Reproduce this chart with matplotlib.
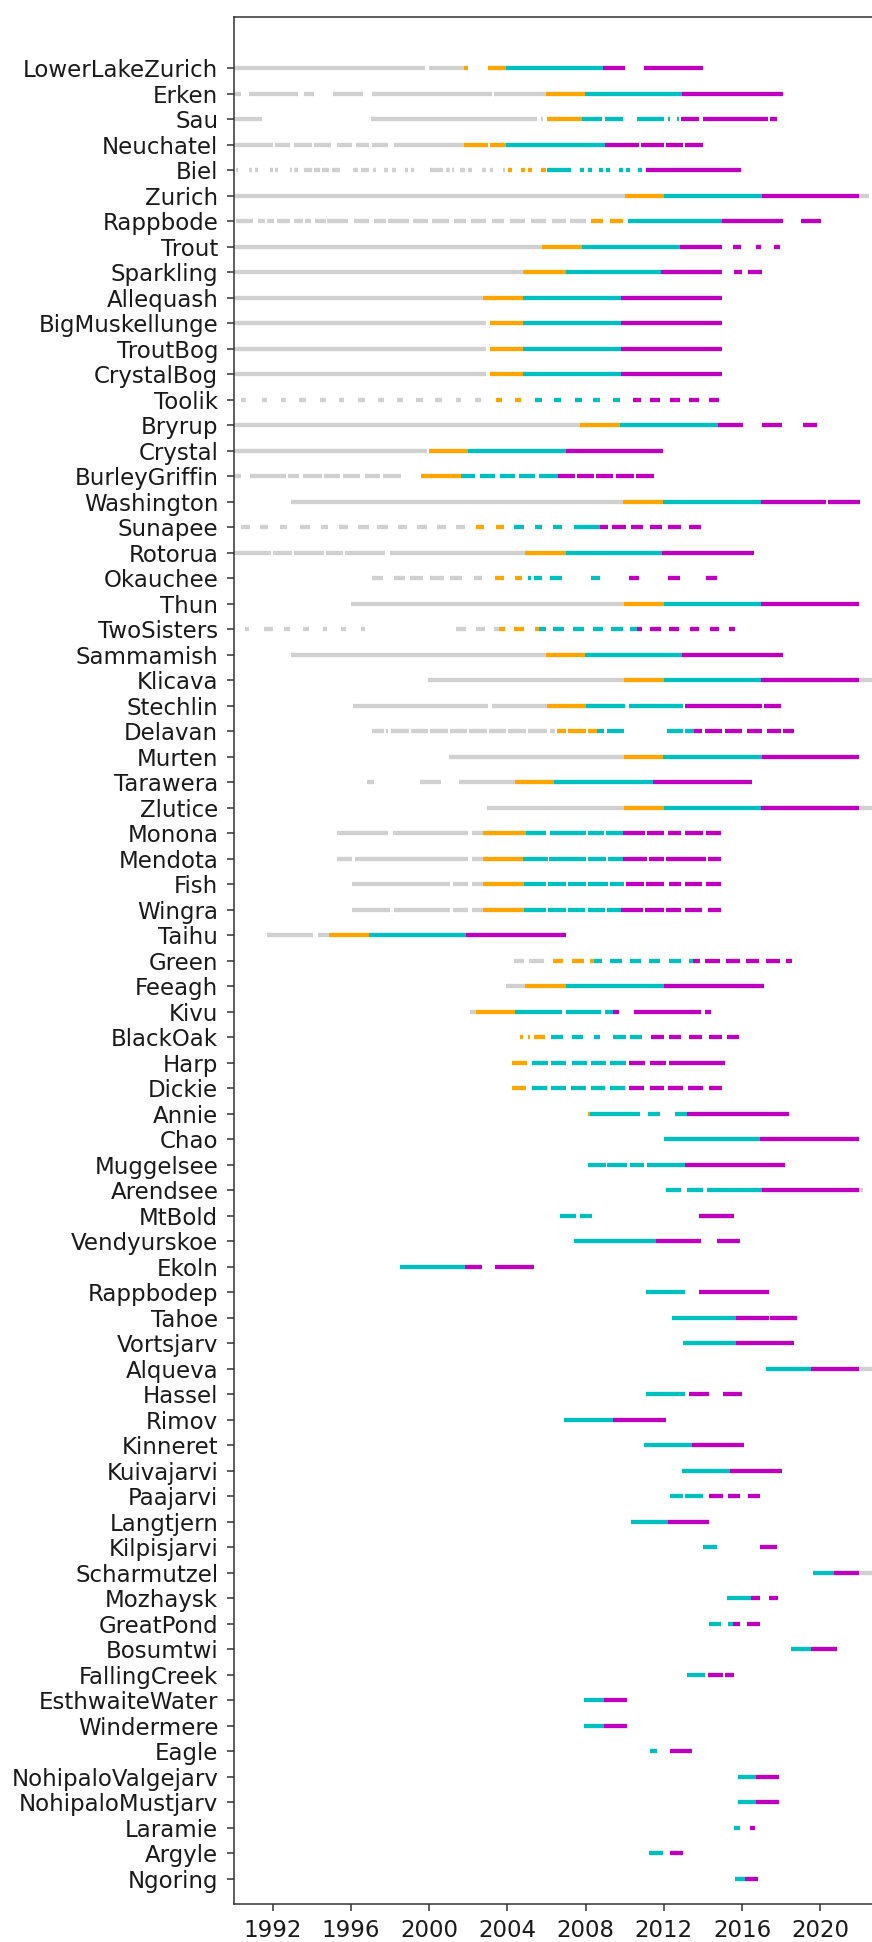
import matplotlib
matplotlib.use("Agg")
import matplotlib.pyplot as plt

# Lakes, top to bottom
lakes = [
    "LowerLakeZurich", "Erken", "Sau", "Neuchatel", "Biel", "Zurich", "Rappbode",
    "Trout", "Sparkling", "Allequash", "BigMuskellunge", "TroutBog", "CrystalBog",
    "Toolik", "Bryrup", "Crystal", "BurleyGriffin", "Washington", "Sunapee",
    "Rotorua", "Okauchee", "Thun", "TwoSisters", "Sammamish", "Klicava",
    "Stechlin", "Delavan", "Murten", "Tarawera", "Zlutice", "Monona", "Mendota",
    "Fish", "Wingra", "Taihu", "Green", "Feeagh", "Kivu", "BlackOak", "Harp",
    "Dickie", "Annie", "Chao", "Muggelsee", "Arendsee", "MtBold", "Vendyurskoe",
    "Ekoln", "Rappbodep", "Tahoe", "Vortsjarv", "Alqueva", "Hassel", "Rimov",
    "Kinneret", "Kuivajarvi", "Paajarvi", "Langtjern", "Kilpisjarvi",
    "Scharmutzel", "Mozhaysk", "GreatPond", "Bosumtwi", "FallingCreek",
    "EsthwaiteWater", "Windermere", "Eagle", "NohipaloValgejarv",
    "NohipaloMustjarv", "Laramie", "Argyle", "Ngoring",
]

# Observation spans (decimal years) outside the modelling periods
other_spans = {
    "LowerLakeZurich": [(1990, 1999.8), (2000.0, 2001.8)],
    "Erken": [(1990, 1990.4), (1990.8, 1993.3), (1993.6, 1994.1), (1995.1, 1996.6),
              (1997.1, 2003.2), (2003.3, 2005.95)],
    "Sau": [(1990, 1991.45), (1997.0, 2005.5), (2005.7, 2005.8)],
    "Neuchatel": [(1990, 1992.0), (1992.1, 1992.9), (1993.1, 1994.0), (1994.1, 1995.0),
                  (1995.3, 1996.05), (1996.25, 1996.9), (1997.1, 1997.9), (1998.2, 2001.8)],
    "Biel": [(1990.1, 1990.25), (1990.8, 1990.95), (1991.1, 1991.25), (1991.85, 1992.0),
             (1992.1, 1992.25), (1992.9, 1993.0), (1993.1, 1993.3), (1993.6, 1994.0),
             (1994.1, 1994.4), (1994.5, 1994.9), (1995.05, 1995.45), (1996.1, 1996.35),
             (1996.5, 1996.9), (1997.15, 1997.3), (1997.7, 1997.9), (1998.1, 1998.3),
             (1998.75, 1998.9), (1999.05, 1999.2), (2000.05, 2000.7), (2000.85, 2001.05),
             (2001.15, 2001.25), (2001.55, 2001.85), (2002.0, 2002.2), (2002.7, 2002.9),
             (2003.1, 2003.25), (2003.75, 2003.9)],
    "Zurich": [(1990, 2010.0), (2022.0, 2022.5)],
    "Rappbode": [(1990.1, 1991.0), (1991.25, 1991.6), (1991.7, 1992.05), (1992.2, 1992.9),
                 (1993.1, 1993.55), (1993.65, 1993.95), (1994.15, 1994.7), (1994.8, 1995.85),
                 (1996.15, 1996.9), (1997.2, 1997.8), (1997.9, 1998.95), (1999.15, 1999.95),
                 (2000.15, 2001.0), (2001.25, 2001.9), (2002.15, 2002.9), (2003.2, 2003.85),
                 (2004.15, 2004.9), (2005.2, 2005.95), (2006.3, 2007.0), (2007.2, 2008.0)],
    "Trout": [(1990, 2005.75)],
    "Sparkling": [(1990, 2004.8)],
    "Allequash": [(1990, 2002.75)],
    "BigMuskellunge": [(1990, 2002.9)],
    "TroutBog": [(1990, 2002.9)],
    "CrystalBog": [(1990, 2002.9)],
    "Toolik": [(1990.4, 1990.65), (1991.45, 1991.7), (1992.4, 1992.7), (1993.35, 1993.7),
               (1994.4, 1994.7), (1995.4, 1995.65), (1996.35, 1996.7), (1997.4, 1997.7),
               (1998.35, 1998.65), (1999.35, 1999.7), (2000.3, 2000.65), (2001.35, 2001.65),
               (2002.35, 2002.65)],
    "Bryrup": [(1990, 2007.7)],
    "Crystal": [(1990, 1999.9)],
    "BurleyGriffin": [(1990, 1990.4), (1990.85, 1992.7), (1992.8, 1993.35), (1993.55, 1994.5),
                      (1994.6, 1995.45), (1995.6, 1996.45), (1996.7, 1997.5), (1997.65, 1998.55)],
    "Washington": [(1992.95, 2009.9)],
    "Sunapee": [(1990.4, 1990.85), (1991.35, 1991.75), (1992.35, 1992.75), (1993.4, 1993.9),
                (1994.45, 1994.85), (1995.4, 1995.85), (1996.35, 1996.9), (1997.35, 1997.9),
                (1998.4, 1998.85), (1999.4, 1999.9), (2000.4, 2000.85), (2001.35, 2001.85)],
    "Rotorua": [(1990, 1991.9), (1992.0, 1993.0), (1993.1, 1994.6), (1994.7, 1995.6),
                (1995.7, 1997.75), (1998.0, 2004.9)],
    "Okauchee": [(1997.1, 1997.65), (1998.2, 1998.75), (1999.0, 1999.7), (2000.05, 2000.75),
                 (2001.05, 2001.7), (2002.3, 2002.7)],
    "Thun": [(1996.0, 2009.95)],
    "TwoSisters": [(1990.6, 1990.8), (1991.55, 1992.0), (1992.6, 1992.9), (1993.55, 1993.85),
                   (1994.55, 1994.75), (1995.5, 1995.75), (1996.5, 1996.7), (2001.35, 2001.9),
                   (2002.4, 2002.85), (2003.3, 2003.55)],
    "Sammamish": [(1992.95, 2005.95)],
    "Klicava": [(1999.95, 2009.95), (2022.0, 2022.7)],
    "Stechlin": [(1996.1, 2003.0), (2003.2, 2006.0)],
    "Delavan": [(1997.1, 1997.7), (1997.8, 1997.9), (1998.05, 1998.95), (1999.05, 1999.95),
                (2000.05, 2000.95), (2001.05, 2001.95), (2002.05, 2002.95), (2003.05, 2003.95),
                (2004.05, 2004.95), (2005.05, 2006.0), (2006.2, 2006.45)],
    "Murten": [(2001.0, 2009.95)],
    "Tarawera": [(1996.8, 1997.2), (1999.55, 2000.6), (2001.5, 2004.4)],
    "Zlutice": [(2002.95, 2009.95), (2022.0, 2022.7)],
    "Monona": [(1995.3, 1997.9), (1998.15, 2002.0), (2002.2, 2002.75)],
    "Mendota": [(1995.3, 1996.05), (1996.2, 2002.0), (2002.2, 2002.75)],
    "Fish": [(1996.05, 2001.05), (2001.2, 2002.0), (2002.2, 2002.75)],
    "Wingra": [(1996.05, 1998.0), (1998.2, 2001.05), (2001.2, 2002.0), (2002.2, 2002.75)],
    "Taihu": [(1991.7, 1994.05), (1994.3, 1994.9)],
    "Green": [(2004.35, 2004.85), (2005.1, 2005.85)],
    "Feeagh": [(2003.95, 2004.9)],
    "Kivu": [(2002.1, 2002.4)],
    "Arendsee": [(2022.0, 2022.2)],
    "Alqueva": [(2022.0, 2022.8)],
    "Scharmutzel": [(2022.0, 2022.8)],
}

# Spin-up period spans
spinup_spans = {
    "LowerLakeZurich": [(2001.8, 2002.0), (2003.0, 2003.95)],
    "Erken": [(2005.95, 2007.95)],
    "Sau": [(2006.0, 2007.8)],
    "Neuchatel": [(2001.8, 2003.0), (2003.1, 2003.95)],
    "Biel": [(2004.05, 2004.25), (2004.7, 2004.9), (2005.05, 2005.25), (2005.7, 2005.95)],
    "Zurich": [(2010.0, 2012.0)],
    "Rappbode": [(2008.25, 2008.9), (2009.25, 2009.9)],
    "Trout": [(2005.75, 2007.8)],
    "Sparkling": [(2004.8, 2007.0)],
    "Allequash": [(2002.75, 2004.8)],
    "BigMuskellunge": [(2003.1, 2004.8)],
    "TroutBog": [(2003.1, 2004.8)],
    "CrystalBog": [(2003.1, 2004.8)],
    "Toolik": [(2003.4, 2003.7), (2004.4, 2004.7)],
    "Bryrup": [(2007.7, 2009.75)],
    "Crystal": [(2000.0, 2002.0)],
    "BurleyGriffin": [(1999.6, 2001.65)],
    "Washington": [(2009.9, 2011.95)],
    "Sunapee": [(2002.4, 2002.8), (2003.4, 2003.8)],
    "Rotorua": [(2004.9, 2007.0)],
    "Okauchee": [(2003.35, 2003.8), (2004.4, 2004.75)],
    "Thun": [(2009.95, 2012.0)],
    "TwoSisters": [(2003.55, 2003.9), (2004.35, 2004.85), (2005.4, 2005.6)],
    "Sammamish": [(2005.95, 2007.95)],
    "Klicava": [(2009.95, 2012.0)],
    "Stechlin": [(2006.0, 2008.0)],
    "Delavan": [(2006.55, 2007.0), (2007.1, 2008.0), (2008.1, 2008.6)],
    "Murten": [(2009.95, 2011.95)],
    "Tarawera": [(2004.4, 2006.4)],
    "Zlutice": [(2009.95, 2012.0)],
    "Monona": [(2002.75, 2004.95)],
    "Mendota": [(2002.75, 2004.8)],
    "Fish": [(2002.75, 2004.85)],
    "Wingra": [(2002.75, 2004.85)],
    "Taihu": [(1994.9, 1996.9)],
    "Green": [(2006.35, 2006.85), (2007.3, 2007.9), (2008.2, 2008.45)],
    "Feeagh": [(2004.9, 2007.0)],
    "Kivu": [(2002.4, 2004.4)],
    "BlackOak": [(2004.65, 2004.8), (2005.05, 2005.15), (2005.35, 2005.9)],
    "Harp": [(2004.25, 2005.0)],
    "Dickie": [(2004.25, 2004.95)],
    "Annie": [(2008.1, 2008.2)],
}

# Calibration period spans
calib_spans = {
    "LowerLakeZurich": [(2003.95, 2008.9)],
    "Erken": [(2007.95, 2012.95)],
    "Sau": [(2007.8, 2008.85), (2009.0, 2009.9), (2010.6, 2012.0), (2012.2, 2012.3),
            (2012.65, 2012.75)],
    "Neuchatel": [(2003.95, 2009.0)],
    "Biel": [(2006.0, 2007.25), (2007.7, 2007.9), (2008.1, 2008.3), (2008.7, 2008.9),
             (2009.05, 2009.25), (2009.7, 2009.9), (2010.05, 2010.25), (2010.7, 2010.9)],
    "Zurich": [(2012.0, 2017.0)],
    "Rappbode": [(2010.15, 2014.95)],
    "Trout": [(2007.8, 2012.8)],
    "Sparkling": [(2007.0, 2011.85)],
    "Allequash": [(2004.8, 2009.8)],
    "BigMuskellunge": [(2004.8, 2009.8)],
    "TroutBog": [(2004.8, 2009.8)],
    "CrystalBog": [(2004.8, 2009.8)],
    "Toolik": [(2005.4, 2005.75), (2006.4, 2006.75), (2007.45, 2007.8), (2008.4, 2008.75),
               (2009.4, 2009.75)],
    "Bryrup": [(2009.75, 2014.75)],
    "Crystal": [(2002.0, 2007.0)],
    "BurleyGriffin": [(2001.65, 2002.35), (2002.6, 2003.35), (2003.6, 2004.4), (2004.6, 2005.4),
                      (2005.6, 2006.6)],
    "Washington": [(2011.95, 2016.95)],
    "Sunapee": [(2004.35, 2004.85), (2005.4, 2005.75), (2006.35, 2006.8), (2007.4, 2008.75)],
    "Rotorua": [(2007.0, 2011.9)],
    "Okauchee": [(2005.05, 2005.2), (2005.35, 2005.75), (2006.2, 2006.8), (2008.25, 2008.75)],
    "Thun": [(2012.0, 2016.95)],
    "TwoSisters": [(2005.6, 2005.95), (2006.35, 2006.9), (2007.35, 2007.9), (2008.35, 2008.9),
                   (2009.3, 2009.9), (2010.25, 2010.6)],
    "Sammamish": [(2007.95, 2012.95)],
    "Klicava": [(2012.0, 2016.95)],
    "Stechlin": [(2008.0, 2010.0), (2010.2, 2013.0)],
    "Delavan": [(2008.6, 2008.95), (2009.1, 2009.95), (2012.15, 2013.0), (2013.1, 2013.55)],
    "Murten": [(2011.95, 2017.0)],
    "Tarawera": [(2006.4, 2011.45)],
    "Zlutice": [(2012.0, 2016.95)],
    "Monona": [(2004.95, 2005.95), (2006.2, 2008.0), (2008.1, 2008.95), (2009.05, 2009.9)],
    "Mendota": [(2004.8, 2006.05), (2006.15, 2008.0), (2008.1, 2009.05), (2009.15, 2009.9)],
    "Fish": [(2004.85, 2005.95), (2006.1, 2007.0), (2007.1, 2008.0), (2008.1, 2009.15),
             (2009.25, 2009.95)],
    "Wingra": [(2004.85, 2005.95), (2006.1, 2007.0), (2007.1, 2007.95), (2008.1, 2009.0),
               (2009.1, 2009.8)],
    "Taihu": [(1996.9, 2001.9)],
    "Green": [(2008.45, 2008.85), (2009.25, 2009.85), (2010.25, 2010.85), (2011.25, 2011.8),
              (2012.25, 2012.85), (2013.3, 2013.5)],
    "Feeagh": [(2007.0, 2012.0)],
    "Kivu": [(2004.4, 2006.8), (2007.0, 2008.8), (2009.0, 2009.4)],
    "BlackOak": [(2006.25, 2006.85), (2007.3, 2007.85), (2008.45, 2008.75), (2009.4, 2010.05),
                 (2010.25, 2010.9)],
    "Harp": [(2005.25, 2006.05), (2006.25, 2007.0), (2007.3, 2008.05), (2008.25, 2009.05),
             (2009.25, 2010.05)],
    "Dickie": [(2005.25, 2006.0), (2006.25, 2007.0), (2007.25, 2008.0), (2008.25, 2009.0),
               (2009.25, 2010.0)],
    "Annie": [(2008.2, 2010.8), (2011.2, 2011.8), (2012.55, 2013.2)],
    "Chao": [(2012.0, 2016.9)],
    "Muggelsee": [(2008.1, 2009.05), (2009.1, 2010.1), (2010.25, 2011.0), (2011.15, 2013.1)],
    "Arendsee": [(2012.1, 2012.9), (2013.2, 2014.0), (2014.2, 2017.0)],
    "MtBold": [(2006.7, 2007.5), (2007.7, 2008.3)],
    "Vendyurskoe": [(2007.4, 2011.6)],
    "Ekoln": [(1998.5, 2001.85)],
    "Rappbodep": [(2011.1, 2013.1)],
    "Tahoe": [(2012.4, 2015.7)],
    "Vortsjarv": [(2013.0, 2015.7)],
    "Alqueva": [(2017.2, 2019.5)],
    "Hassel": [(2011.1, 2013.1)],
    "Rimov": [(2006.9, 2009.4)],
    "Kinneret": [(2011.0, 2013.45)],
    "Kuivajarvi": [(2012.95, 2015.4)],
    "Paajarvi": [(2012.3, 2013.0), (2013.1, 2014.0)],
    "Langtjern": [(2010.3, 2012.2)],
    "Kilpisjarvi": [(2014.0, 2014.7)],
    "Scharmutzel": [(2019.6, 2020.7)],
    "Mozhaysk": [(2015.25, 2016.45)],
    "GreatPond": [(2014.3, 2014.9), (2015.3, 2015.55)],
    "Bosumtwi": [(2018.5, 2019.5)],
    "FallingCreek": [(2013.2, 2014.1)],
    "EsthwaiteWater": [(2007.9, 2008.95)],
    "Windermere": [(2007.9, 2008.95)],
    "Eagle": [(2011.3, 2011.65)],
    "NohipaloValgejarv": [(2015.8, 2016.7)],
    "NohipaloMustjarv": [(2015.8, 2016.7)],
    "Laramie": [(2015.6, 2015.9)],
    "Argyle": [(2011.25, 2011.95)],
    "Ngoring": [(2015.65, 2016.15)],
}

# Validation period spans
valid_spans = {
    "LowerLakeZurich": [(2008.9, 2010.0), (2011.0, 2014.0)],
    "Erken": [(2012.95, 2018.1)],
    "Sau": [(2012.85, 2013.8), (2014.0, 2017.3), (2017.4, 2017.8)],
    "Neuchatel": [(2009.0, 2010.75), (2010.85, 2012.0), (2012.1, 2013.0), (2013.1, 2014.0)],
    "Biel": [(2011.1, 2015.95)],
    "Zurich": [(2017.0, 2022.0)],
    "Rappbode": [(2014.95, 2018.1), (2019.0, 2020.05)],
    "Trout": [(2012.8, 2014.95), (2015.55, 2015.95), (2016.7, 2016.95), (2017.65, 2017.95)],
    "Sparkling": [(2011.85, 2014.95), (2015.6, 2016.0), (2016.3, 2017.0)],
    "Allequash": [(2009.8, 2014.95)],
    "BigMuskellunge": [(2009.8, 2014.95)],
    "TroutBog": [(2009.8, 2014.95)],
    "CrystalBog": [(2009.8, 2014.95)],
    "Toolik": [(2010.4, 2010.85), (2011.3, 2011.8), (2012.3, 2012.8), (2013.3, 2013.8),
               (2014.3, 2014.8)],
    "Bryrup": [(2014.75, 2016.05), (2017.0, 2018.05), (2019.1, 2019.85)],
    "Crystal": [(2007.0, 2011.95)],
    "BurleyGriffin": [(2006.6, 2007.45), (2007.55, 2008.45), (2008.55, 2009.4),
                      (2009.55, 2010.45), (2010.55, 2011.5)],
    "Washington": [(2016.95, 2020.3), (2020.4, 2022.05)],
    "Sunapee": [(2008.75, 2009.15), (2009.35, 2010.05), (2010.3, 2010.95), (2011.3, 2011.9),
                (2012.2, 2012.9), (2013.3, 2013.9)],
    "Rotorua": [(2011.9, 2016.6)],
    "Okauchee": [(2010.2, 2010.75), (2012.2, 2012.8), (2014.15, 2014.7)],
    "Thun": [(2016.95, 2022.0)],
    "TwoSisters": [(2010.6, 2010.9), (2011.3, 2011.85), (2012.25, 2012.75), (2013.35, 2013.8),
                   (2014.35, 2014.8), (2015.35, 2015.65)],
    "Sammamish": [(2012.95, 2018.1)],
    "Klicava": [(2016.95, 2022.0)],
    "Stechlin": [(2013.1, 2017.0), (2017.1, 2018.0)],
    "Delavan": [(2013.55, 2013.95), (2014.1, 2014.95), (2015.1, 2016.0), (2016.25, 2017.0),
                (2017.25, 2018.0), (2018.1, 2018.65)],
    "Murten": [(2017.0, 2022.0)],
    "Tarawera": [(2011.45, 2016.5)],
    "Zlutice": [(2016.95, 2022.0)],
    "Monona": [(2009.9, 2011.05), (2011.15, 2012.0), (2012.2, 2012.9), (2013.1, 2014.0),
               (2014.15, 2014.9)],
    "Mendota": [(2009.9, 2011.15), (2011.25, 2012.0), (2012.1, 2014.15), (2014.25, 2014.9)],
    "Fish": [(2010.05, 2011.0), (2011.1, 2012.0), (2012.25, 2012.9), (2013.1, 2013.95),
             (2014.15, 2014.9)],
    "Wingra": [(2009.8, 2010.95), (2011.05, 2012.0), (2012.1, 2012.9), (2013.1, 2013.95),
               (2014.25, 2014.9)],
    "Taihu": [(2001.9, 2007.0)],
    "Green": [(2013.5, 2013.85), (2014.1, 2014.85), (2015.2, 2015.9), (2016.2, 2016.85),
              (2017.2, 2017.95), (2018.25, 2018.55)],
    "Feeagh": [(2012.0, 2017.1)],
    "Kivu": [(2009.4, 2009.7), (2010.45, 2013.9), (2014.1, 2014.4)],
    "BlackOak": [(2011.35, 2012.0), (2012.25, 2012.85), (2013.3, 2013.95), (2014.3, 2014.95),
                 (2015.25, 2015.85)],
    "Harp": [(2010.2, 2011.05), (2011.3, 2012.1), (2012.25, 2015.1)],
    "Dickie": [(2010.2, 2011.0), (2011.3, 2012.0), (2012.2, 2013.0), (2013.25, 2014.0),
               (2014.3, 2014.95)],
    "Annie": [(2013.2, 2018.4)],
    "Chao": [(2016.9, 2022.0)],
    "Muggelsee": [(2013.1, 2018.2)],
    "Arendsee": [(2017.0, 2022.0)],
    "MtBold": [(2013.8, 2015.6)],
    "Vendyurskoe": [(2011.6, 2013.9), (2014.7, 2015.9)],
    "Ekoln": [(2001.85, 2002.7), (2003.35, 2005.35)],
    "Rappbodep": [(2013.8, 2017.35)],
    "Tahoe": [(2015.7, 2017.35), (2017.45, 2018.8)],
    "Vortsjarv": [(2015.7, 2018.65)],
    "Alqueva": [(2019.5, 2022.0)],
    "Hassel": [(2013.3, 2014.3), (2015.0, 2016.0)],
    "Rimov": [(2009.4, 2012.1)],
    "Kinneret": [(2013.45, 2016.1)],
    "Kuivajarvi": [(2015.4, 2018.05)],
    "Paajarvi": [(2014.3, 2015.0), (2015.3, 2015.9), (2016.3, 2016.9)],
    "Langtjern": [(2012.2, 2014.3)],
    "Kilpisjarvi": [(2016.9, 2017.8)],
    "Scharmutzel": [(2020.7, 2022.0)],
    "Mozhaysk": [(2016.45, 2016.9), (2017.35, 2017.85)],
    "GreatPond": [(2015.55, 2015.9), (2016.25, 2016.9)],
    "Bosumtwi": [(2019.5, 2020.85)],
    "FallingCreek": [(2014.25, 2015.0), (2015.1, 2015.6)],
    "EsthwaiteWater": [(2008.95, 2010.1)],
    "Windermere": [(2008.95, 2010.1)],
    "Eagle": [(2012.3, 2013.45)],
    "NohipaloValgejarv": [(2016.7, 2017.9)],
    "NohipaloMustjarv": [(2016.7, 2017.9)],
    "Laramie": [(2016.4, 2016.65)],
    "Argyle": [(2012.3, 2013.0)],
    "Ngoring": [(2016.15, 2016.8)],
}

year_ticks = [1992, 1996, 2000, 2004, 2008, 2012, 2016, 2020]

layers = [
    (other_spans, "#d0d0d0"),
    (spinup_spans, "orange"),
    (calib_spans, "c"),
    (valid_spans, "m"),
]

W, H, DPI = 872, 1942, 100
fig = plt.figure(figsize=(W / DPI, H / DPI), dpi=DPI)
ax = fig.add_axes([233.6 / W, 38 / H, 665 / W, (1904 - 17.3) / H])

row_of = {name: i for i, name in enumerate(lakes)}
for spans, color in layers:
    for name, segs in spans.items():
        y = row_of[name]
        starts = [s for s, e in segs]
        ends = [e for s, e in segs]
        ax.hlines([y] * len(segs), starts, ends, colors=color, linewidth=3.1,
                  capstyle="butt")

ax.set_xlim(1990, 2024)
ax.set_ylim(len(lakes), -2)
ax.set_yticks(range(len(lakes)))
ax.set_yticklabels(lakes)
ax.set_xticks(year_ticks)
ax.set_xticklabels([str(t) for t in year_ticks])
ax.tick_params(axis="both", labelsize=16.5, length=5, width=1.1, pad=6,
               color="#333333", labelcolor="#1a1a1a")
for sp in ax.spines.values():
    sp.set_linewidth(1.1)
    sp.set_color("#333333")

fig.savefig("out.png", dpi=DPI)
